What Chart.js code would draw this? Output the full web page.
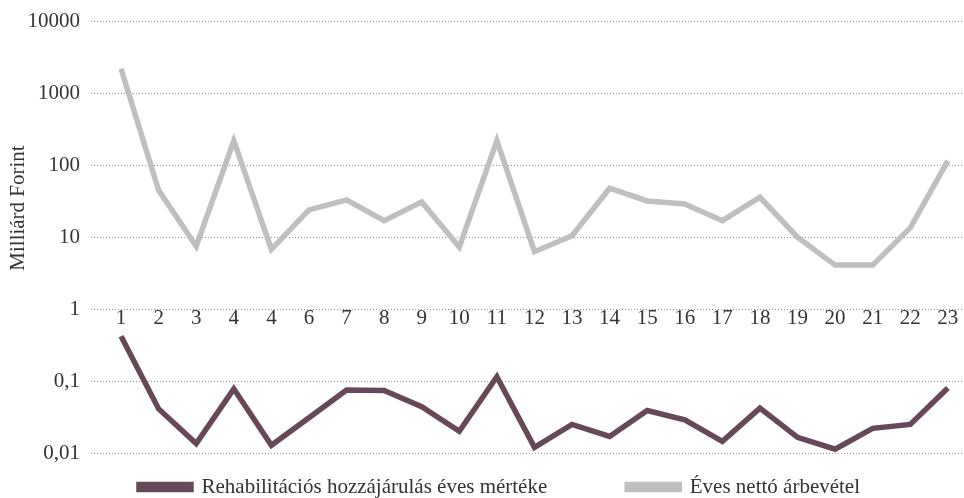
<!DOCTYPE html>
<html lang="hu">
<head>
<meta charset="utf-8">
<title>Rehabilitációs hozzájárulás és nettó árbevétel</title>
<script src="https://cdn.jsdelivr.net/npm/chart.js@4.4.1/dist/chart.umd.min.js"></script>
<style>
  html, body { margin: 0; padding: 0; background: #fff; }
  #wrap { position: relative; width: 964px; height: 498px; }
</style>
</head>
<body>
<div id="wrap"><canvas id="chart"></canvas></div>
<script>
"use strict";

// category labels (the 5th one really reads "4" in the source table)
const xLabels = ['1', '2', '3', '4', '4', '6', '7', '8', '9', '10', '11', '12',
    '13', '14', '15', '16', '17', '18', '19', '20', '21', '22', '23'];

// billion HUF
const netRevenue = [2200, 45, 7.5, 220, 6.8, 24, 33, 17, 31, 7.3, 220, 6.3,
    10.5, 48, 32, 29, 17, 36, 10, 4.1, 4.1, 13.5, 115];
const rehabContribution = [0.42, 0.041, 0.0135, 0.078, 0.0128, 0.031, 0.075, 0.074,
    0.044, 0.02, 0.115, 0.012, 0.025, 0.017, 0.039, 0.029, 0.0145, 0.042, 0.0165,
    0.0113, 0.022, 0.025, 0.08];

const yTicks = [0.01, 0.1, 1, 10, 100, 1000, 10000];

const seriesNames = ['Rehabilitációs hozzájárulás éves mértéke', 'Éves nettó árbevétel'];
const yTitle = 'Milliárd Forint';

const FONT = '"Liberation Serif", "DejaVu Serif", serif';
const TEXT = '#333333';
const FS = 21;
const LEGEND_GAP = 80;

function toPoints(arr) {
    return arr.map(function (v, i) { return { x: i + 1, y: v }; });
}

// y title is drawn by hand so it can sit a bit above centre
const yTitlePlugin = {
    id: 'yTitle',
    afterDraw(chart) {
        const c = chart.ctx;
        c.save();
        c.translate(18, 208);
        c.rotate(-Math.PI / 2);
        c.font = FS + 'px ' + FONT;
        c.fillStyle = TEXT;
        c.textAlign = 'center';
        c.textBaseline = 'middle';
        c.fillText(yTitle, 0, 0);
        c.restore();
    }
};

// the big item gap also inflates the legend height, so keep the layout
// slot small and move the legend box by hand afterwards
const legendPlace = {
    id: 'legendPlace',
    afterInit(chart) {
        const lg = chart.legend;
        const fit = lg.fit;
        lg.fit = function () {
            fit.call(this);
            this.height = 45;
        };
    },
    afterLayout(chart) {
        const lg = chart.legend;
        lg.left = 35;
        lg.top = 487 - LEGEND_GAP - FS / 2;
        lg.bottom = chart.height;
    }
};

new Chart(document.getElementById('chart'), {
    type: 'line',
    data: {
        datasets: [{
            label: seriesNames[0],
            data: toPoints(rehabContribution),
            borderColor: '#664858',
            backgroundColor: '#664858',
            borderWidth: 5.5,
            pointRadius: 0,
            borderJoinStyle: 'miter',
            borderCapStyle: 'butt'
        }, {
            label: seriesNames[1],
            data: toPoints(netRevenue),
            borderColor: '#bfbfbf',
            backgroundColor: '#bfbfbf',
            borderWidth: 5.5,
            pointRadius: 0,
            borderJoinStyle: 'miter',
            borderCapStyle: 'butt'
        }]
    },
    options: {
        responsive: true,
        maintainAspectRatio: false,
        animation: false,
        layout: { padding: { left: 0, right: 0, top: 20, bottom: 0 } },
        plugins: {
            tooltip: { enabled: false },
            legend: {
                position: 'bottom',
                labels: {
                    boxWidth: 52,
                    boxHeight: 5,
                    padding: LEGEND_GAP,
                    color: TEXT,
                    font: { family: FONT, size: FS }
                }
            }
        },
        scales: {
            x: {
                type: 'linear',
                // category labels hang just under the "1" grid line
                position: { y: 1.12 },
                min: 0.2,
                max: 23.43,
                grid: { display: false, drawTicks: false },
                border: { display: false },
                afterBuildTicks(axis) {
                    axis.ticks = xLabels.map(function (_, i) { return { value: i + 1 }; });
                },
                ticks: {
                    autoSkip: false,
                    maxRotation: 0,
                    padding: 0,
                    color: TEXT,
                    font: { family: FONT, size: FS },
                    callback: function (v) { return xLabels[v - 1]; }
                }
            },
            y: {
                type: 'logarithmic',
                min: 0.01,
                max: 10000,
                afterBuildTicks(axis) {
                    axis.ticks = yTicks.map(function (v) { return { value: v }; });
                },
                afterFit(axis) { axis.width = 91; },
                border: { display: false, dash: [1, 2] },
                grid: {
                    drawTicks: false,
                    color: '#8f8f8f',
                    lineWidth: 1
                },
                ticks: {
                    padding: 11,
                    color: TEXT,
                    font: { family: FONT, size: FS, lineHeight: 1 },
                    callback: function (v) { return String(v).replace('.', ','); }
                }
            }
        }
    },
    plugins: [yTitlePlugin, legendPlace]
});
</script>
</body>
</html>
